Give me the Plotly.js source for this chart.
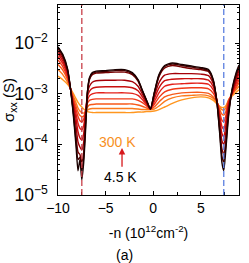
<!DOCTYPE html>
<html>
<head>
<meta charset="utf-8">
<script src="https://cdn.plot.ly/plotly-3.0.1.min.js"></script>
<style>html,body{margin:0;padding:0;background:#fff;}#chart{width:249px;height:263px;}</style>
</head>
<body>
<div id="chart"></div>
<script>
// carrier density -n (10^12 cm^-2)
const densityN = [-10, -9.5, -9, -8.7, -8.4, -8.1, -7.9, -7.7, -7.5, -7.3, -7.1, -6.9, -6.7, -6.4, -6, -5, -4, -3, -2.2, -1.6, -1.1, -0.7, -0.3, 0.1, 0.6, 1.2, 2, 3, 4, 5, 5.8, 6.3, 6.7, 7.0, 7.2, 7.4, 7.6, 7.9, 8.3, 8.7, 9];

// log10(sigma_xx / S), one array per temperature (4.5 K -> 300 K)
const logSigmaT1 = [-2.07,-2.22,-2.50,-2.88,-3.40,-4.05,-4.52,-4.30,-4.70,-4.35,-3.70,-2.95,-2.68,-2.58,-2.55,-2.54,-2.52,-2.52,-2.58,-2.72,-2.95,-3.13,-3.30,-2.98,-2.62,-2.44,-2.39,-2.42,-2.45,-2.48,-2.52,-2.72,-3.20,-3.85,-4.35,-4.52,-4.15,-3.45,-2.88,-2.58,-2.43];
const logSigmaT2 = [-2.09,-2.24,-2.52,-2.88,-3.36,-3.95,-4.30,-4.25,-4.52,-4.25,-3.60,-2.95,-2.70,-2.60,-2.57,-2.56,-2.54,-2.54,-2.60,-2.73,-2.96,-3.13,-3.30,-2.99,-2.64,-2.46,-2.41,-2.44,-2.47,-2.50,-2.54,-2.74,-3.20,-3.80,-4.22,-4.35,-4.05,-3.40,-2.90,-2.61,-2.46];
const logSigmaT3 = [-2.11,-2.26,-2.53,-2.88,-3.32,-3.85,-4.15,-4.20,-4.35,-4.15,-3.50,-2.95,-2.72,-2.62,-2.59,-2.58,-2.57,-2.57,-2.62,-2.75,-2.97,-3.14,-3.30,-3.00,-2.66,-2.49,-2.44,-2.47,-2.50,-2.52,-2.56,-2.75,-3.18,-3.72,-4.08,-4.20,-3.95,-3.35,-2.92,-2.65,-2.50];
const logSigmaT4 = [-2.15,-2.30,-2.56,-2.89,-3.25,-3.65,-3.95,-4.05,-4.11,-3.95,-3.40,-2.98,-2.85,-2.77,-2.74,-2.73,-2.73,-2.73,-2.76,-2.85,-3.02,-3.16,-3.30,-3.05,-2.78,-2.63,-2.60,-2.60,-2.60,-2.61,-2.64,-2.80,-3.15,-3.62,-3.92,-4.00,-3.80,-3.28,-2.95,-2.70,-2.55];
const logSigmaT5 = [-2.20,-2.35,-2.60,-2.89,-3.20,-3.50,-3.75,-3.87,-3.91,-3.78,-3.35,-3.05,-2.95,-2.89,-2.87,-2.86,-2.86,-2.86,-2.88,-2.94,-3.07,-3.19,-3.30,-3.10,-2.88,-2.74,-2.71,-2.70,-2.70,-2.70,-2.73,-2.86,-3.15,-3.52,-3.78,-3.85,-3.65,-3.22,-2.97,-2.75,-2.60];
const logSigmaT6 = [-2.26,-2.40,-2.64,-2.89,-3.16,-3.40,-3.58,-3.68,-3.71,-3.62,-3.32,-3.12,-3.04,-3.00,-2.98,-2.98,-2.98,-2.98,-2.99,-3.03,-3.12,-3.21,-3.30,-3.16,-2.98,-2.85,-2.81,-2.80,-2.79,-2.79,-2.81,-2.92,-3.15,-3.45,-3.64,-3.70,-3.55,-3.18,-2.98,-2.80,-2.66];
const logSigmaT7 = [-2.33,-2.46,-2.68,-2.89,-3.12,-3.32,-3.45,-3.53,-3.55,-3.50,-3.32,-3.18,-3.13,-3.11,-3.10,-3.10,-3.10,-3.10,-3.10,-3.13,-3.18,-3.24,-3.30,-3.21,-3.07,-2.96,-2.91,-2.89,-2.88,-2.88,-2.90,-2.99,-3.16,-3.38,-3.52,-3.55,-3.45,-3.15,-2.99,-2.85,-2.72];
const logSigmaT8 = [-2.42,-2.53,-2.72,-2.89,-3.08,-3.25,-3.36,-3.43,-3.45,-3.44,-3.34,-3.26,-3.22,-3.21,-3.20,-3.20,-3.20,-3.20,-3.20,-3.22,-3.25,-3.28,-3.30,-3.26,-3.16,-3.06,-3.01,-2.98,-2.97,-2.97,-2.99,-3.06,-3.18,-3.32,-3.40,-3.42,-3.36,-3.13,-3.00,-2.88,-2.78];
const logSigmaT9 = [-2.52,-2.62,-2.77,-2.89,-3.04,-3.18,-3.28,-3.34,-3.37,-3.38,-3.36,-3.32,-3.30,-3.29,-3.29,-3.29,-3.29,-3.29,-3.29,-3.30,-3.31,-3.31,-3.31,-3.30,-3.24,-3.15,-3.08,-3.04,-3.03,-3.02,-3.04,-3.09,-3.18,-3.27,-3.31,-3.32,-3.28,-3.12,-3.01,-2.92,-2.85];
const logSigmaT10 = [-2.65,-2.72,-2.81,-2.89,-2.99,-3.10,-3.17,-3.22,-3.26,-3.30,-3.33,-3.35,-3.36,-3.37,-3.37,-3.37,-3.37,-3.37,-3.37,-3.36,-3.36,-3.35,-3.35,-3.34,-3.31,-3.26,-3.19,-3.12,-3.08,-3.06,-3.08,-3.13,-3.20,-3.25,-3.27,-3.27,-3.24,-3.14,-3.04,-2.97,-2.92];

const curveSet = [logSigmaT1, logSigmaT2, logSigmaT3, logSigmaT4, logSigmaT5, logSigmaT6, logSigmaT7, logSigmaT8, logSigmaT9, logSigmaT10];
const curveColors = ['#1a0000', '#4a0000', '#7a0000', '#a50008', '#c8100f', '#e3201a', '#f03a18', '#f75a1a', '#fb7a1c', '#ff961f'];

// dashed guide lines (-n positions)
const guideX = [-7.5, 7.4];
const guideColors = ['#c8404a', '#5b7fe0'];

const labelHigh = '300 K';
const labelLow = '4.5 K';

const FONT = 'Liberation Sans, Arial, sans-serif';

const traces = curveSet.map((arr, i) => ({
  x: densityN,
  y: arr.map(v => Math.pow(10, v)),
  type: 'scatter',
  mode: 'lines',
  line: {color: curveColors[i], width: 1.4, shape: 'spline', smoothing: 0.6},
  hoverinfo: 'skip',
  showlegend: false
})).reverse();

const shapes = guideX.map((gx, i) => ({
  type: 'line', xref: 'x', yref: 'paper', x0: gx, x1: gx, y0: 0, y1: 1,
  line: {color: guideColors[i], width: 1.3, dash: '6px,3px'}
}));

const layout = {
  width: 249, height: 263,
  margin: {l: 58, r: 10, t: 5, b: 68},
  paper_bgcolor: '#fff', plot_bgcolor: '#fff',
  font: {family: FONT, size: 14, color: '#000'},
  showlegend: false,
  xaxis: {
    range: [-10, 9], dtick: 5, tick0: 0,
    ticks: 'inside', ticklen: 4, tickwidth: 1, tickcolor: '#000',
    showline: true, linecolor: '#000', linewidth: 1.3, mirror: 'ticks',
    showgrid: false, zeroline: false,
    minor: {dtick: 2.5, ticks: 'inside', ticklen: 3, tickcolor: '#000', showgrid: false},
    tickfont: {size: 14, family: FONT},
    title: {text: '-n (10<sup>12</sup>cm<sup>-2</sup>)', font: {size: 14, family: FONT}, standoff: 13}
  },
  yaxis: {
    type: 'log', range: [-5, -1.243], dtick: 1,
    exponentformat: 'power',
    ticks: 'inside', ticklen: 4, tickwidth: 1, tickcolor: '#000',
    showline: true, linecolor: '#000', linewidth: 1.3, mirror: 'ticks',
    showgrid: false, zeroline: false,
    ticklabelstandoff: 6,
    minor: {ticks: 'inside', ticklen: 2, tickcolor: '#000', showgrid: false},
    tickfont: {size: 14, family: FONT},
    title: {text: 'σ<sub>xx</sub> (S)', font: {size: 15, family: FONT}, standoff: 4}
  },
  shapes: shapes,
  annotations: [
    {x: -3.8, y: -3.95, xref: 'x', yref: 'y', text: labelHigh, showarrow: false,
     font: {size: 14, color: '#f7901e', family: FONT}},
    {x: -3.45, y: -4.64, xref: 'x', yref: 'y', text: labelLow, showarrow: false,
     font: {size: 14, color: '#000', family: FONT}},
    {x: -3.28, y: -4.07, ax: -3.28, ay: -4.47, xref: 'x', yref: 'y', axref: 'x', ayref: 'y',
     text: '', showarrow: true, arrowhead: 2, arrowsize: 1, arrowwidth: 1.3, arrowcolor: '#d7191c'},
    {x: 0.365, y: -0.316, xref: 'paper', yref: 'paper', yanchor: 'middle', text: '(a)', showarrow: false,
     font: {size: 14, color: '#000', family: FONT}}
  ]
};

Plotly.newPlot('chart', traces, layout, {staticPlot: true, displayModeBar: false});
</script>
</body>
</html>
